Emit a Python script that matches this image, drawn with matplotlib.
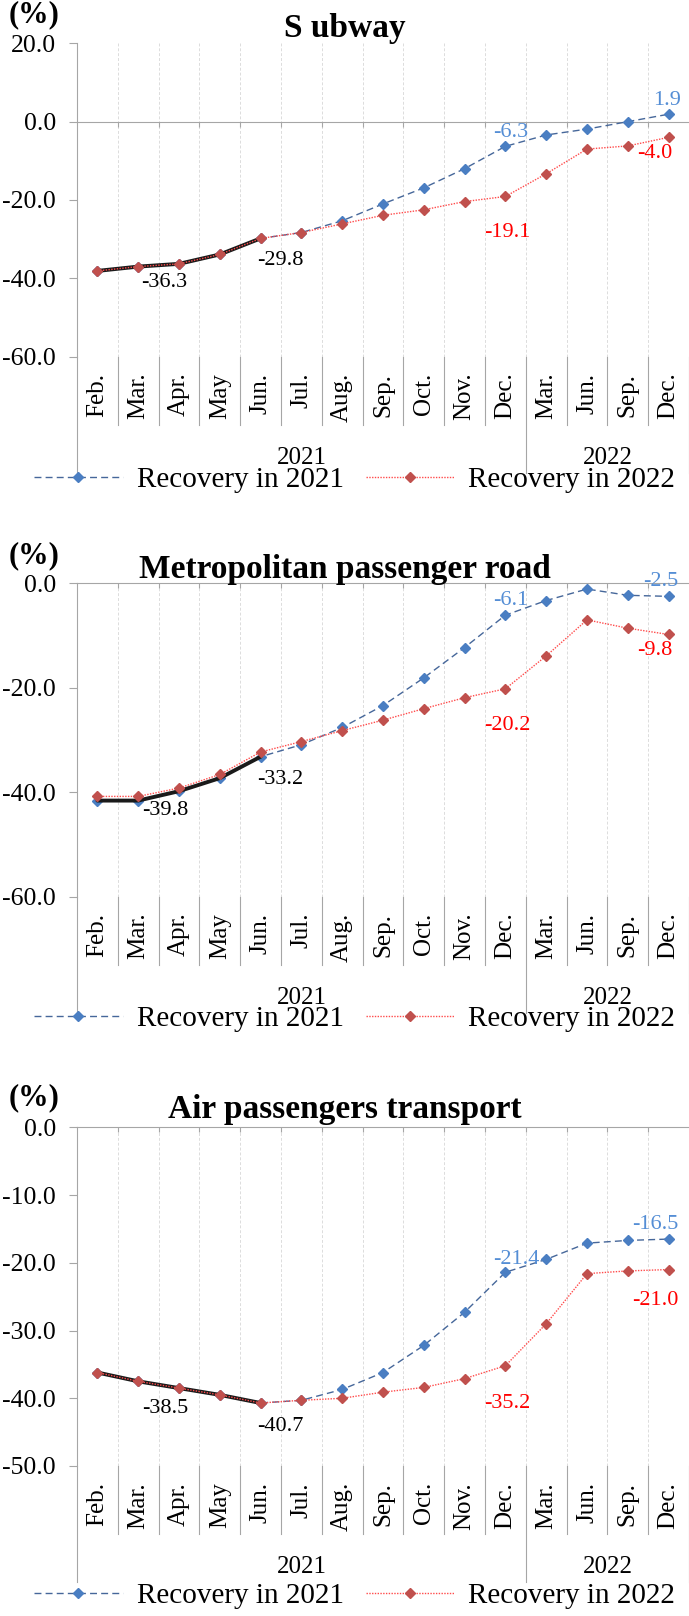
import numpy as np
import matplotlib
matplotlib.use("Agg")
import matplotlib.pyplot as plt

plt.rcParams["font.family"] = ["Liberation Serif", "DejaVu Serif"]
plt.rcParams["axes.unicode_minus"] = False

# ---- data ----
months = ["Feb.", "Mar.", "Apr.", "May", "Jun.", "Jul.", "Aug.", "Sep.",
          "Oct.", "Nov.", "Dec.", "Mar.", "Jun.", "Sep.", "Dec."]
years = ["2021", "2022"]
months_per_year = [11, 4]
n_actual = 5  # Feb.-Jun. drawn as the black line

legend_labels = ["Recovery in 2021", "Recovery in 2022"]

subway_2021 = [-38.1, -37.0, -36.3, -33.9, -29.8, -28.3, -25.3, -21.0,
               -16.9, -12.0, -6.3, -3.4, -1.9, 0.0, 1.9]
subway_2022 = [-38.1, -37.0, -36.3, -33.9, -29.8, -28.3, -26.1, -23.9,
               -22.5, -20.4, -19.1, -13.3, -7.0, -6.2, -4.0]

metro_2021 = [-41.6, -41.6, -39.8, -37.3, -33.2, -30.9, -27.6, -23.4,
              -18.1, -12.3, -6.1, -3.3, -1.1, -2.3, -2.5]
metro_2022 = [-40.8, -40.8, -39.2, -36.6, -32.3, -30.3, -28.2, -26.2,
              -24.0, -21.9, -20.2, -13.9, -7.0, -8.6, -9.8]

air_2021 = [-36.2, -37.5, -38.5, -39.5, -40.7, -40.3, -38.7, -36.2,
            -32.2, -27.3, -21.4, -19.5, -17.1, -16.7, -16.5]
air_2022 = [-36.2, -37.5, -38.5, -39.5, -40.7, -40.3, -40.0, -39.1,
            -38.4, -37.1, -35.2, -29.0, -21.6, -21.2, -21.0]

# ---- style ----
W, H = 689, 1616
GRAY = "#A6A6A6"
GRID = "#DCDCDC"
BLUE_LINE = "#46679A"
BLUE_MK = "#4A7EC2"
BLUE_TXT = "#558ED5"
RED_LINE = "#FF4B4B"
RED_MK = "#C0504D"
RED_TXT = "#FF0000"


def px(v):
    return v * 0.72  # pixels -> points at 100 dpi


def draw_panel(fig, top, bottom, title, s21, s22, ylim, step,
               title_y, pct_y, legend_y, labels):
    left = 77
    ax = fig.add_axes([left / W, 1 - bottom / H, (W - left) / W, (bottom - top) / H])
    hpx = bottom - top
    n = len(months)
    x = np.arange(n)

    ax.set_xlim(-0.5, n - 0.5)
    ax.set_ylim(*ylim)
    for s in ["top", "right"]:
        ax.spines[s].set_visible(False)
    ax.spines["left"].set_color(GRAY)
    ax.spines["bottom"].set_color(GRAY)
    ax.spines["bottom"].set_position(("data", 0))

    bounds = np.arange(0.5, n - 1, 1.0)
    ax.set_xticks(bounds)
    ax.tick_params(axis="x", length=px(5), color=GRAY, labelbottom=False)
    ax.set_yticks(np.arange(ylim[0], ylim[1] + 0.01, step))
    ax.set_yticklabels([f"{v:.1f}" for v in ax.get_yticks()])
    ax.tick_params(axis="y", length=px(8), color=GRAY, labelsize=18.5, pad=px(13))

    for b in list(bounds) + [n - 0.5]:
        ax.axvline(b, color=GRID, ls=(0, (3, 2)), lw=0.7, zorder=0)

    l21, = ax.plot(x, s21, ls=(0, (5, 3)), color=BLUE_LINE, lw=1.0,
                   marker="D", ms=5, mfc=BLUE_MK, mec=BLUE_MK, zorder=3)
    ax.plot(x[:n_actual], s21[:n_actual], color="#1A1A1A", lw=2.8,
            solid_capstyle="round", solid_joinstyle="round", zorder=4)
    l22, = ax.plot(x, s22, ls=(0, (1, 1)), color=RED_LINE, lw=1.0,
                   marker="D", ms=5, mfc=RED_MK, mec=RED_MK, zorder=5)

    series = {"b": (s21, BLUE_TXT), "r": (s22, RED_TXT), "k": (s21, "black")}
    for key, i, dx, dy in labels:
        vals, col = series[key]
        ax.annotate(f"{vals[i]:.1f}", xy=(i, vals[i]), xytext=(px(dx), -px(dy + 7)),
                    textcoords="offset points", ha="center", va="baseline",
                    fontsize=16, color=col, zorder=6, annotation_clip=False)

    # category axis below the plot
    tr = ax.get_xaxis_transform()
    for i, m in enumerate(months):
        ax.annotate(m, xy=(i, 0), xycoords=tr, xytext=(0, -px(16)),
                    textcoords="offset points", rotation=90, ha="center",
                    va="top", fontsize=18)
    long_edges = [-0.5]
    start = 0
    for yr, cnt in zip(years, months_per_year):
        ax.text((start + start + cnt - 1) / 2, -101 / hpx, yr, transform=tr,
                ha="center", va="center", fontsize=18)
        start += cnt
        long_edges.append(start - 0.5)
    for b in bounds:
        if b not in long_edges:
            ax.plot([b, b], [0, -68 / hpx], transform=tr, color=GRAY, lw=0.8, clip_on=False)
    for b in long_edges:
        ax.plot([b, b], [0, -116 / hpx], transform=tr, color=GRAY, lw=0.8, clip_on=False)

    fig.text(345 / W, 1 - title_y / H, title, ha="center", va="baseline",
             fontsize=24, fontweight="bold")
    fig.text(9 / W, 1 - pct_y / H, "(%)", ha="left", va="baseline",
             fontsize=22, fontweight="bold")

    ax.legend([l21, l22], legend_labels, loc="center",
              bbox_to_anchor=(354.5 / W, 1 - legend_y / H), bbox_transform=fig.transFigure,
              ncol=2, frameon=False, fontsize=21, handlelength=3.05,
              handletextpad=0.48, columnspacing=0.75, numpoints=1,
              borderpad=0, borderaxespad=0)
    return ax


fig = plt.figure(figsize=(W / 100, H / 100), dpi=100)

draw_panel(fig, 43.3, 356.7, "S ubway", subway_2021, subway_2022, (-60, 20), 20,
           37, 22, 480,
           [("b", 14, -2, -16), ("b", 10, 5, -16), ("r", 10, 2, 34), ("r", 14, -14, 14),
            ("k", 4, 20, 20), ("k", 2, -15, 16)])

draw_panel(fig, 583.3, 896.7, "Metropolitan passenger road", metro_2021, metro_2022,
           (-60, 0), 20, 578, 563, 1019,
           [("b", 14, -8, -17), ("b", 10, 5, -17), ("r", 10, 2, 34), ("r", 14, -14, 14),
            ("k", 4, 20, 20), ("k", 2, -14, 17)])

draw_panel(fig, 1127.3, 1466, "Air passengers transport", air_2021, air_2022,
           (-50, 0), 10, 1118, 1105, 1596,
           [("b", 14, -13, -17), ("b", 10, 11, -15), ("r", 10, 2, 35), ("r", 14, -13, 28),
            ("k", 4, 20, 21), ("k", 2, -14, 18)])

fig.savefig("out.png", dpi=100, facecolor="white")
